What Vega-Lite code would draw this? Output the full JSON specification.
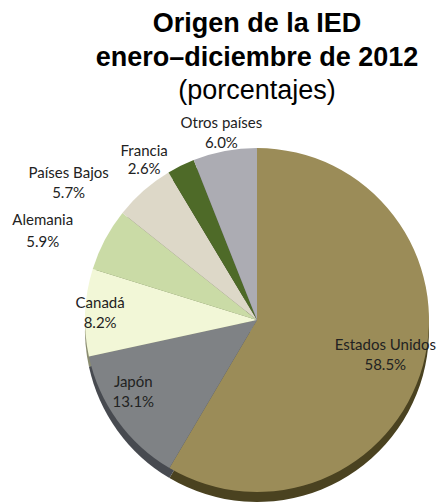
{
  "$schema": "https://vega.github.io/schema/vega-lite/v6.json",
  "width": 350,
  "height": 350,
  "autosize": "none",
  "padding": {"left": 82, "top": 145, "right": 12, "bottom": 7},
  "title": {
    "text": ["Origen de la IED", "enero–diciembre de 2012"],
    "subtitle": "(porcentajes)",
    "frame": "group",
    "font": "Liberation Sans",
    "fontSize": 27,
    "fontWeight": "bold",
    "color": "#000000",
    "lineHeight": 34,
    "subtitleFont": "Liberation Sans",
    "subtitleFontSize": 27,
    "subtitleFontWeight": "normal",
    "subtitleColor": "#000000",
    "subtitleLineHeight": 30,
    "subtitlePadding": 6,
    "anchor": "middle",
    "offset": -26
  },
  "config": {"view": {"stroke": null}, "text": {"font": "Lato", "fontSize": 15, "color": "#222222"}},
  "data": {
    "values": [
      {"orden": 1, "pais": "Estados Unidos", "share": 0.585},
      {"orden": 2, "pais": "Japón", "share": 0.131},
      {"orden": 3, "pais": "Canadá", "share": 0.082},
      {"orden": 4, "pais": "Alemania", "share": 0.059},
      {"orden": 5, "pais": "Países Bajos", "share": 0.057},
      {"orden": 6, "pais": "Francia", "share": 0.026},
      {"orden": 7, "pais": "Otros países", "share": 0.060}
    ]
  },
  "encoding": {
    "theta": {"field": "share", "type": "quantitative", "stack": true},
    "order": {"field": "orden", "type": "quantitative"},
    "detail": {"field": "pais", "type": "nominal"}
  },
  "layer": [
    {
      "mark": {"type": "arc", "outerRadius": 172, "yOffset": 10},
      "encoding": {
        "fill": {
          "field": "pais", "type": "nominal", "legend": null,
          "scale": {
            "domain": ["Estados Unidos", "Japón", "Canadá", "Alemania", "Países Bajos", "Francia", "Otros países"],
            "range": ["#4a4220", "#474a50", "#8a8c70", "#6e7a55", "#7a7668", "#2e3f18", "#5e5e64"]
          }
        }
      }
    },
    {
      "mark": {"type": "arc", "outerRadius": 172},
      "encoding": {
        "color": {
          "field": "pais", "type": "nominal", "legend": null,
          "scale": {
            "domain": ["Estados Unidos", "Japón", "Canadá", "Alemania", "Países Bajos", "Francia", "Otros países"],
            "range": ["#9b8c58", "#7f8285", "#f2f7d7", "#cadba6", "#ddd8c8", "#4e6a28", "#acacb3"]
          }
        }
      }
    },
    {
      "mark": {"type": "text", "radius": 133, "dy": -10},
      "encoding": {"text": {"condition": {"test": "datum.pais === 'Estados Unidos'", "field": "pais", "type": "nominal"}, "value": ""}}
    },
    {
      "mark": {"type": "text", "radius": 133, "dy": 10},
      "encoding": {"text": {"condition": {"test": "datum.pais === 'Estados Unidos'", "field": "share", "type": "quantitative", "format": ".1%"}, "value": ""}}
    },
    {
      "mark": {"type": "text", "radius": 143, "thetaOffset": 0.1, "dy": -10},
      "encoding": {"text": {"condition": {"test": "datum.pais === 'Japón'", "field": "pais", "type": "nominal"}, "value": ""}}
    },
    {
      "mark": {"type": "text", "radius": 143, "thetaOffset": 0.1, "dy": 10},
      "encoding": {"text": {"condition": {"test": "datum.pais === 'Japón'", "field": "share", "type": "quantitative", "format": ".1%"}, "value": ""}}
    },
    {
      "mark": {"type": "text", "radius": 157, "dy": -10},
      "encoding": {"text": {"condition": {"test": "datum.pais === 'Canadá'", "field": "pais", "type": "nominal"}, "value": ""}}
    },
    {
      "mark": {"type": "text", "radius": 157, "dy": 10},
      "encoding": {"text": {"condition": {"test": "datum.pais === 'Canadá'", "field": "share", "type": "quantitative", "format": ".1%"}, "value": ""}}
    },
    {
      "mark": {"type": "text", "radius": 232, "thetaOffset": -0.093, "dy": -11},
      "encoding": {"text": {"condition": {"test": "datum.pais === 'Alemania'", "field": "pais", "type": "nominal"}, "value": ""}}
    },
    {
      "mark": {"type": "text", "radius": 232, "thetaOffset": -0.093, "dy": 11},
      "encoding": {"text": {"condition": {"test": "datum.pais === 'Alemania'", "field": "share", "type": "quantitative", "format": ".1%"}, "value": ""}}
    },
    {
      "mark": {"type": "text", "radius": 233, "thetaOffset": -0.222, "dy": -10},
      "encoding": {"text": {"condition": {"test": "datum.pais === 'Países Bajos'", "field": "pais", "type": "nominal"}, "value": ""}}
    },
    {
      "mark": {"type": "text", "radius": 233, "thetaOffset": -0.222, "dy": 10},
      "encoding": {"text": {"condition": {"test": "datum.pais === 'Países Bajos'", "field": "share", "type": "quantitative", "format": ".1%"}, "value": ""}}
    },
    {
      "mark": {"type": "text", "radius": 196, "thetaOffset": -0.155, "dy": -9},
      "encoding": {"text": {"condition": {"test": "datum.pais === 'Francia'", "field": "pais", "type": "nominal"}, "value": ""}}
    },
    {
      "mark": {"type": "text", "radius": 196, "thetaOffset": -0.155, "dy": 9},
      "encoding": {"text": {"condition": {"test": "datum.pais === 'Francia'", "field": "share", "type": "quantitative", "format": ".1%"}, "value": ""}}
    },
    {
      "mark": {"type": "text", "radius": 190, "dy": -10},
      "encoding": {"text": {"condition": {"test": "datum.pais === 'Otros países'", "field": "pais", "type": "nominal"}, "value": ""}}
    },
    {
      "mark": {"type": "text", "radius": 190, "dy": 10},
      "encoding": {"text": {"condition": {"test": "datum.pais === 'Otros países'", "field": "share", "type": "quantitative", "format": ".1%"}, "value": ""}}
    }
  ]
}
